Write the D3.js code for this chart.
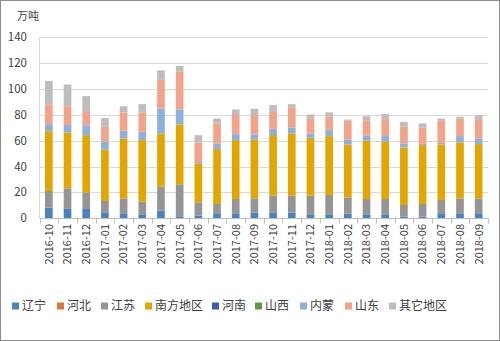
<!DOCTYPE html>
<html><head><meta charset="utf-8">
<script src="https://cdn.jsdelivr.net/npm/d3@7/dist/d3.min.js"></script>
<style>body{margin:0;background:#fff}svg{display:block}text{font-family:"Noto Sans CJK SC","Liberation Sans",sans-serif}</style>
</head><body><svg id="c" width="500" height="341"></svg>
<script>
const months = ["2016-10","2016-11","2016-12","2017-01","2017-02","2017-03","2017-04","2017-05","2017-06","2017-07","2017-08","2017-09","2017-10","2017-11","2017-12","2018-01","2018-02","2018-03","2018-04","2018-05","2018-06","2018-07","2018-08","2018-09"];
const seriesNames = ["辽宁","河北","江苏","南方地区","河南","山西","内蒙","山东","其它地区"];
const liaoning = [8.2,7.7,7.2,4.6,3.9,2.6,5.9,1,2,3.9,3.9,4.4,4.6,4.4,3.1,3.1,3.6,3.1,3.1,1.3,1.3,3.9,3.9,3.9];
const hebei    = [0,0,0,0,0,0,0,0,0,0,0,0,0,0,0,0,0,0,0,0,0,0,0,0];
const jiangsu  = [12.9,15.5,12.8,8.8,11.5,10.3,18.6,25.3,10.4,7.2,11,11,12.9,13.1,14.4,14.9,12.6,11.8,11.8,9,9.8,10.3,11.5,11.5];
const south    = [46.3,43.2,44.3,39.6,46.4,47.6,41.1,46.3,30.1,42.4,45.6,45.6,46.9,48.1,44.8,45.6,40.9,45.1,44.3,44.5,45.5,42.9,43.3,42];
const henan    = [0,0,0,0,0,0,0,0,0,0,0,0,0,0,0,0,0,0,0,0,0,0,0,0];
const shanxi   = [0,0,0,0,0,0,0,0,0,0,0,0,0,0,0,0,0,0,0,0,0,0,0,0];
const neimeng  = [5.4,5.7,7.7,6.2,5.9,6.4,19.3,11.6,1,4.4,4.6,3.9,5.1,4.4,3.3,4.6,3.9,3.8,4.4,3.1,1,1.3,4.9,4.4];
const shandong = [15.5,14.6,10.9,11.6,14.2,15,22.7,29.1,14.9,15.5,14.7,14.9,13.4,15.5,11.6,10.3,14.4,11.6,13.1,12.9,12.7,17,13.6,14.9];
const others   = [18,16.8,11.6,6.7,4.8,6.4,6.9,4.6,5.9,3.8,4.4,4.9,4.6,2.8,3.1,3.4,1,3.6,3.9,3.8,3.1,1.8,1.3,3.1];
const yTicks = [0,20,40,60,80,100,120,140];
const unitLabel = "万吨";
const colors = ["#4a82be","#d9763a","#959595","#e2a600","#3a5fae","#5f9b3c","#8eb0dc","#f2a48a","#bdbdbd"];

const seriesData = [liaoning,hebei,jiangsu,south,henan,shanxi,neimeng,shandong,others];
const rows = months.map((m,i)=>{const r={month:m}; seriesNames.forEach((s,j)=>r[s]=seriesData[j][i]); return r;});
const stack = d3.stack().keys(seriesNames)(rows);

const svg = d3.select("#c");
svg.append("rect").attr("x",0.5).attr("y",0.5).attr("width",499).attr("height",340).attr("fill","#fff").attr("stroke","#8c8c8c");

const L=39.5, R=488, T=37.3, B=218.3;
const x = d3.scaleBand().domain(months).range([L,R]).paddingInner(0.59).paddingOuter(0.295);
const xs = d3.scaleBand().domain(months).range([L,R]).padding(0);
const y = d3.scaleLinear().domain([0,140]).range([B,T]);

// grid
svg.append("g").selectAll("line").data(yTicks.filter(d=>d>0)).join("line")
  .attr("x1",L).attr("x2",R).attr("y1",d=>Math.round(y(d))+0.5).attr("y2",d=>Math.round(y(d))+0.5)
  .attr("stroke","#d9d9d9");
// y axis line
svg.append("line").attr("x1",L).attr("x2",L).attr("y1",T).attr("y2",B).attr("stroke","#d9d9d9");
// y labels
svg.append("g").selectAll("text").data(yTicks).join("text")
  .attr("x",27).attr("y",d=>y(d)).attr("dy","0.35em").attr("text-anchor","end")
  .attr("font-size",11.5).attr("fill","#404040").text(d=>d);
svg.append("text").attr("x",17).attr("y",20).attr("font-size",11).attr("fill","#404040").text(unitLabel);

// bars
svg.append("g").selectAll("g").data(stack).join("g").attr("fill",(d,i)=>colors[i])
  .selectAll("rect").data(d=>d).join("rect")
  .attr("x",d=>x(d.data.month)).attr("width",x.bandwidth())
  .attr("y",d=>y(d[1])).attr("height",d=>Math.max(0,y(d[0])-y(d[1])));

// x axis
const by = Math.round(B)+0.5;
svg.append("line").attr("x1",L).attr("x2",R).attr("y1",by).attr("y2",by).attr("stroke","#bfbfbf");
const tickPos = months.map(m=>xs(m)).concat([R]);
svg.append("g").selectAll("line").data(tickPos).join("line")
  .attr("x1",d=>Math.round(d)+0.5).attr("x2",d=>Math.round(d)+0.5).attr("y1",by).attr("y2",by+5).attr("stroke","#bfbfbf");
svg.append("g").selectAll("text").data(months).join("text")
  .attr("transform",d=>`translate(${x(d)+x.bandwidth()/2},224) rotate(-90)`)
  .attr("text-anchor","end").attr("dy","0.35em").attr("font-size",11).attr("fill","#404040").text(d=>d);

// legend
const legX = [12,57,101,145,212,255,300,345,389];
const lg = svg.append("g").selectAll("g").data(seriesNames).join("g")
  .attr("transform",(d,i)=>`translate(${legX[i]},306)`);
lg.append("rect").attr("x",0).attr("y",-3.5).attr("width",7).attr("height",7).attr("fill",(d,i)=>colors[i]);
lg.append("text").attr("x",10).attr("dy","0.35em").attr("font-size",12).attr("fill","#404040").text(d=>d);
</script></body></html>
